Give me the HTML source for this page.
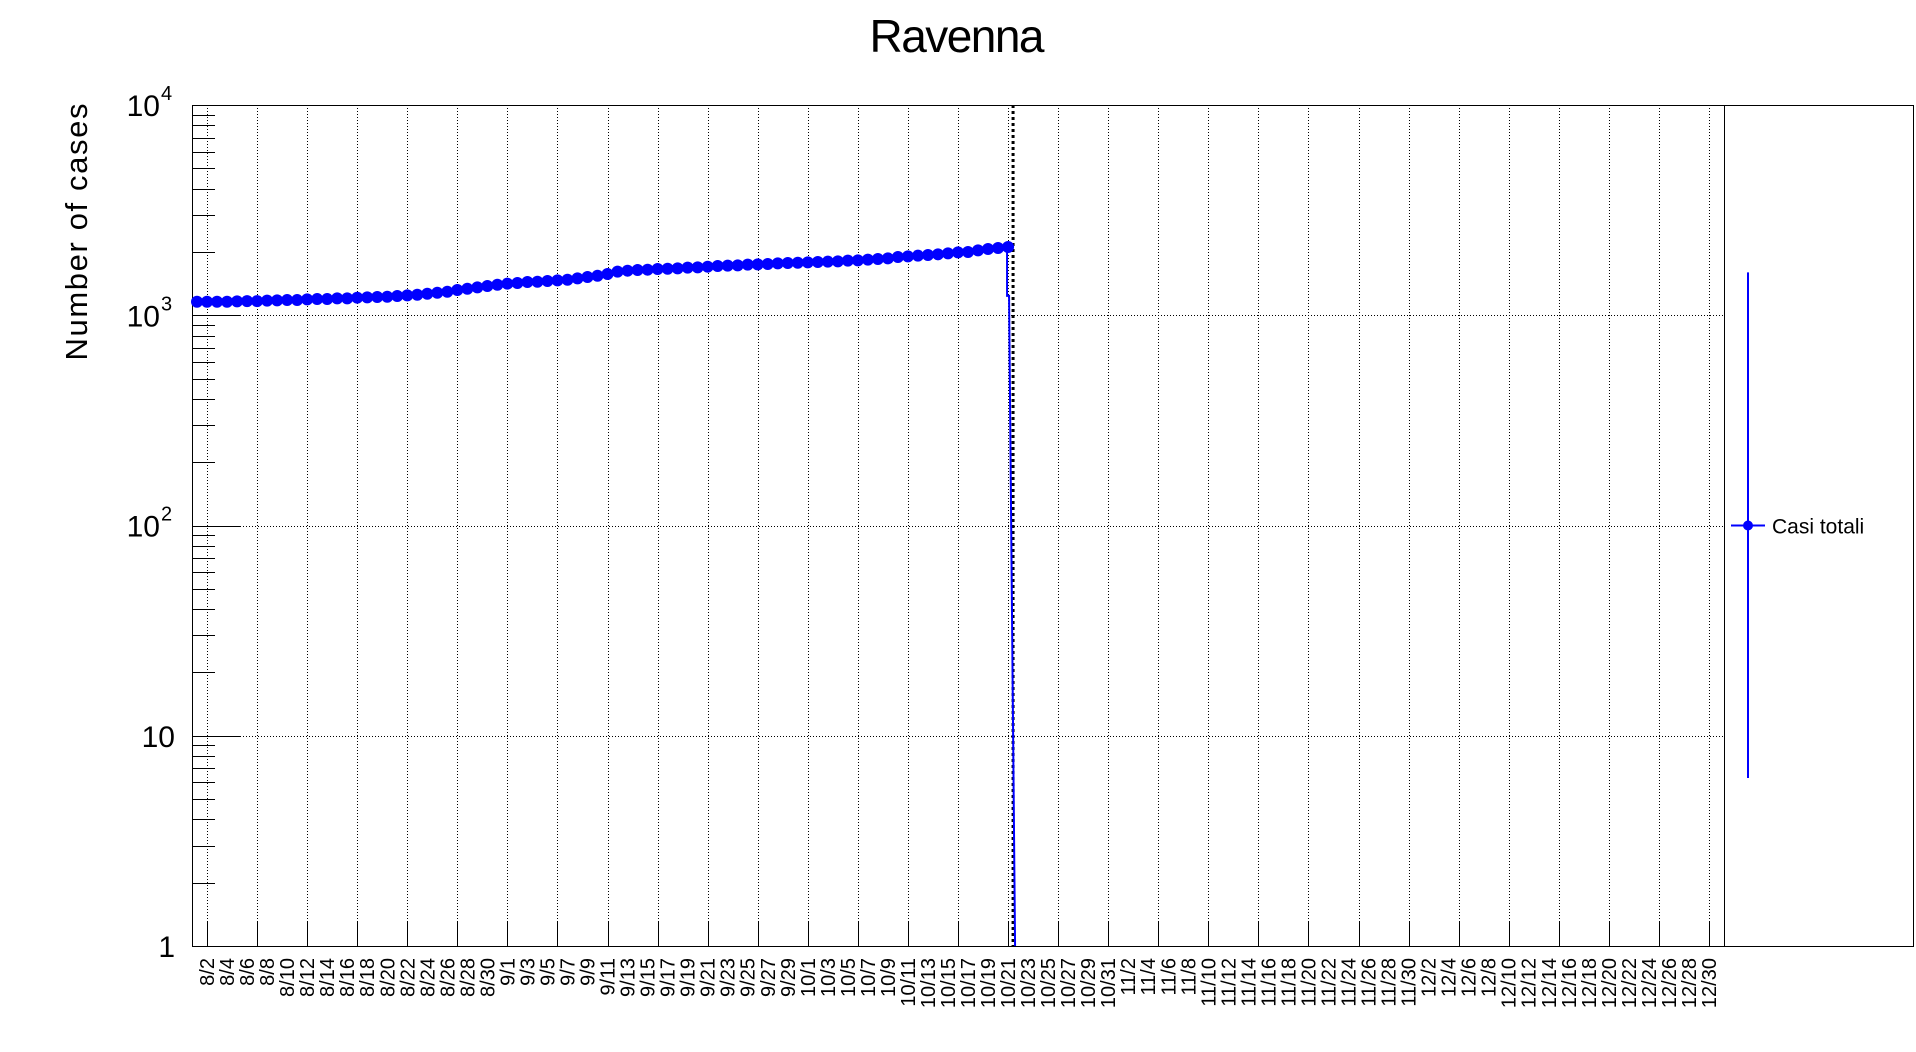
<!DOCTYPE html>
<html><head><meta charset="utf-8"><title>Ravenna</title>
<style>html,body{margin:0;padding:0;background:#fff;}svg{display:block;font-family:"Liberation Sans",sans-serif;}</style>
</head><body>
<svg id="chart" width="1916" height="1052" xmlns="http://www.w3.org/2000/svg"></svg>
<script>
// ---- data ----
const startMonth = 8, startDay = 1;
const nBins = 153;
const casesTotal = [1160,1160,1160,1160,1164,1168,1168,1173,1177,1181,1181,1190,1194,1194,1203,1203,1212,1216,1221,1225,1234,1243,1252,1266,1280,1294,1318,1337,1357,1377,1397,1413,1423,1439,1444,1455,1466,1476,1498,1520,1542,1571,
1612,1629,1641,1647,1659,1665,1671,1684,1690,1702,1715,1721,1727,1740,1746,1752,1765,1772,1778,1785,1791,1798,1804,1818,1824,1838,1851,1865,
1892,1906,1920,1934,1949,1970,1992,1999,2036,2066,2089,2112];
const dropValue = 1236;
const yTickValues = [1,10,100,1000,10000];
const yTickLabels = ["1","10","10^2","10^3","10^4"];
const seriesName = "Casi totali";
const legendErrLow = 6.3, legendErrHigh = 1600, legendValue = 100;

// ---- geometry ----
const X0 = 192, X1 = 1724, FR = 1913, Y0 = 946, YT = 105;
const binW = (X1 - X0) / nBins;
const decade = (Y0 - YT) / 4;
const xBin = i => X0 + (i + 0.5) * binW;
const yVal = v => Y0 - decade * Math.log10(v);
const NS = "http://www.w3.org/2000/svg";
const svg = document.getElementById('chart');
function mk(tag, attrs, parent) {
  const e = document.createElementNS(NS, tag);
  for (const k in attrs) e.setAttribute(k, attrs[k]);
  (parent || svg).appendChild(e);
  return e;
}
const mdays = {8:31,9:30,10:31,11:30,12:31};
function dateLabel(i) {
  let m = startMonth, d = startDay + i;
  while (d > mdays[m]) { d -= mdays[m]; m++; }
  return m + "/" + d;
}

// title
let t = mk('text', {x:957, y:52, 'font-size':46, 'text-anchor':'middle', textLength:175});
t.textContent = "Ravenna";



// grid
const grid = mk('g', {stroke:'#000', 'stroke-width':1, 'stroke-dasharray':'1,2', fill:'none'});


for (let i = 1; i < nBins; i += 5) {
  const x = Math.round(xBin(i)) + 0.5;
  mk('line', {x1:x, x2:x, y1:YT, y2:Y0}, grid);
}
[10,100,1000].forEach(v => {
  const y = Math.round(yVal(v)) + 0.5;
  mk('line', {x1:X0, x2:X1, y1:y, y2:y}, grid);
});

// frame
const fr = mk('g', {stroke:'#000', 'stroke-width':1, fill:'none'});


mk('rect', {x:X0+0.5, y:YT+0.5, width:FR-X0, height:Y0-YT}, fr);
mk('line', {x1:X1+0.5, x2:X1+0.5, y1:YT, y2:Y0}, fr);

// y ticks
const yt = mk('g', {stroke:'#000', 'stroke-width':1});


for (let dec = 0; dec < 4; dec++) {
  for (let k = 1; k <= 10; k++) {
    const v = k * Math.pow(10, dec);
    const y = Math.round(yVal(v)) + 0.5;
    const len = (k === 1 || k === 10) ? 48 : 23;
    mk('line', {x1:X0, x2:X0+len, y1:y, y2:y}, yt);
  }
}
yTickValues.forEach((v, i) => {
  const y = yVal(v);
  const lab = yTickLabels[i];
  const g = mk('text', {x:lab.includes('^') ? 160 : 175, y:y+11, 'font-size':30, 'text-anchor':'end'});
  
  
  if (lab.includes('^')) {
    const [b, e] = lab.split('^');
    g.textContent = b;
    const s = mk('text', {x:161, y:y-5, 'font-size':20, 'text-anchor':'start'});
    s.textContent = e;
    
    
  } else g.textContent = lab;
});

// y title
const yTitle = mk('text', {x:0, y:0, 'font-size':31, 'text-anchor':'middle', transform:'translate(87,232) rotate(-90)', textLength:257});
yTitle.textContent = "Number of cases";



// x ticks & labels
const xt = mk('g', {stroke:'#000', 'stroke-width':1});


for (let i = 1; i < nBins; i += 5) {
  const x = Math.round(xBin(i)) + 0.5;
  mk('line', {x1:x, x2:x, y1:Y0-25, y2:Y0}, xt);
}
for (let i = 1; i < nBins; i += 2) {
  const x = xBin(i);
  const l = mk('text', {x:0, y:0, 'font-size':20, 'text-anchor':'end', transform:'translate(' + (x+7) + ',958) rotate(-90)'});
  l.textContent = dateLabel(i);
  
  
}

// current day line
const cur = mk('line', {x1:xBin(casesTotal.length-1)+5, x2:xBin(casesTotal.length-1)+5, y1:YT, y2:Y0, stroke:'#000', 'stroke-width':3, 'stroke-dasharray':'3,3'});



// series
const ser = mk('g', {});


const pts = casesTotal.map((v, i) => xBin(i).toFixed(1) + ',' + yVal(v).toFixed(1)).join(' ');
mk('polyline', {points:pts, fill:'none', stroke:'#00f', 'stroke-width':2}, ser);
const last = casesTotal.length - 1;
const xl = xBin(last);
mk('polyline', {points:`${xl-1},${yVal(casesTotal[last])} ${xl-1},${yVal(dropValue)} ${xl+1},${yVal(dropValue)} ${xl+7},${Y0}`, fill:'none', stroke:'#00f', 'stroke-width':2}, ser);
casesTotal.forEach((v, i) => {
  const c = mk('circle', {cx:xBin(i), cy:yVal(v), r:6, fill:'#00f'}, ser);
  
  
});

// legend
const leg = mk('g', {});


const ly = yVal(legendValue);
mk('line', {x1:1748, x2:1748, y1:yVal(legendErrHigh), y2:yVal(legendErrLow), stroke:'#00f', 'stroke-width':2}, leg);
mk('line', {x1:1731, x2:1765, y1:ly, y2:ly, stroke:'#00f', 'stroke-width':2}, leg);
mk('circle', {cx:1748, cy:ly, r:5, fill:'#00f'}, leg);
const lt = mk('text', {x:1772, y:ly+8, 'font-size':21}, leg);
lt.textContent = seriesName;


</script>
</body></html>
